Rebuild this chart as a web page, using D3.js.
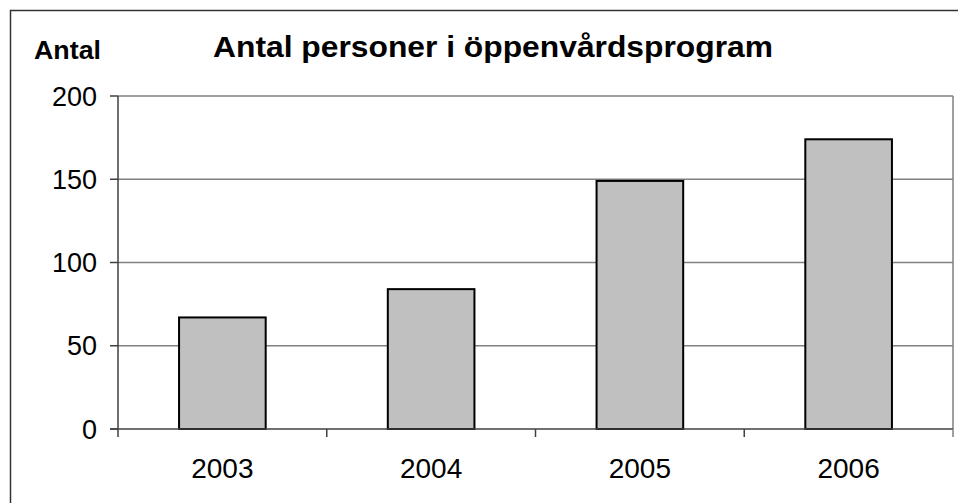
<!DOCTYPE html>
<html>
<head>
<meta charset="utf-8">
<script src="https://cdn.jsdelivr.net/npm/d3@7/dist/d3.min.js"></script>
<style>
  html, body { margin: 0; padding: 0; background: #fff; }
  svg { display: block; font-family: "Liberation Sans", Arial, sans-serif; }
</style>
</head>
<body>
<svg id="chart" width="958" height="503"></svg>
<script>
const categories = ["2003", "2004", "2005", "2006"];
const values = [67, 84, 149, 174];
const yTicks = [0, 50, 100, 150, 200];
const titleText = "Antal personer i öppenvårdsprogram";
const yLabelText = "Antal";

const svg = d3.select("#chart");
const W = 958, H = 503;
const plot = { left: 118, right: 953, top: 96, bottom: 429 };

// outer chart border
svg.append("rect")
  .attr("x", 10.5).attr("y", 10.5)
  .attr("width", W + 20).attr("height", H + 20)
  .attr("fill", "none").attr("stroke", "#333").attr("stroke-width", 1.5);

const x = d3.scaleBand().domain(categories)
  .range([plot.left, plot.right])
  .paddingInner(0.585).paddingOuter(0.2925);
const xEdges = d3.scaleBand().domain(categories)
  .range([plot.left, plot.right]).padding(0);
const y = d3.scaleLinear().domain([0, 200]).range([plot.bottom, plot.top]);

// gridlines
svg.append("g").selectAll("line").data(yTicks.filter(d => d > 0)).join("line")
  .attr("x1", plot.left).attr("x2", plot.right)
  .attr("y1", d => y(d)).attr("y2", d => y(d))
  .attr("stroke", "#808080").attr("stroke-width", 1.5);

// plot area right border
svg.append("line")
  .attr("x1", plot.right).attr("x2", plot.right)
  .attr("y1", plot.top).attr("y2", plot.bottom)
  .attr("stroke", "#808080").attr("stroke-width", 1.5);

// bars
svg.append("g").selectAll("rect").data(values).join("rect")
  .attr("x", (d, i) => x(categories[i]))
  .attr("y", d => y(d))
  .attr("width", x.bandwidth())
  .attr("height", d => y(0) - y(d))
  .attr("fill", "#c0c0c0").attr("stroke", "#000").attr("stroke-width", 2);

// x axis
const xAxis = svg.append("g")
  .attr("transform", `translate(0,${plot.bottom})`);
xAxis.append("line")
  .attr("x1", plot.left - 8).attr("x2", plot.right)
  .attr("y1", 0).attr("y2", 0)
  .attr("stroke", "#404040").attr("stroke-width", 1.5);
const edgeVals = categories.slice(1);
xAxis.selectAll("line.tick").data(edgeVals).join("line")
  .attr("class", "tick")
  .attr("x1", d => xEdges(d)).attr("x2", d => xEdges(d))
  .attr("y1", 0).attr("y2", 8)
  .attr("stroke", "#404040").attr("stroke-width", 1.5);
xAxis.append("line")
  .attr("x1", plot.right).attr("x2", plot.right)
  .attr("y1", 0).attr("y2", 8)
  .attr("stroke", "#808080").attr("stroke-width", 1.5);
xAxis.selectAll("text").data(categories).join("text")
  .attr("x", d => x(d) + x.bandwidth() / 2)
  .attr("y", 49)
  .attr("text-anchor", "middle")
  .attr("font-size", 28)
  .attr("fill", "#000")
  .text(d => d);

// y axis
const yAxis = svg.append("g");
yAxis.append("line")
  .attr("x1", plot.left).attr("x2", plot.left)
  .attr("y1", plot.top).attr("y2", plot.bottom + 8)
  .attr("stroke", "#404040").attr("stroke-width", 1.5);
yAxis.selectAll("line.tick").data(yTicks).join("line")
  .attr("class", "tick")
  .attr("x1", plot.left - 8).attr("x2", plot.left)
  .attr("y1", d => y(d)).attr("y2", d => y(d))
  .attr("stroke", "#404040").attr("stroke-width", 1.5);
yAxis.selectAll("text").data(yTicks).join("text")
  .attr("x", 97)
  .attr("y", d => y(d) + 9.5)
  .attr("text-anchor", "end")
  .attr("font-size", 27)
  .attr("fill", "#000")
  .text(d => d);

// y label
svg.append("text")
  .attr("x", 34).attr("y", 59)
  .attr("font-size", 25).attr("font-weight", "bold")
  .attr("textLength", 67).attr("lengthAdjust", "spacingAndGlyphs")
  .attr("fill", "#000")
  .text(yLabelText);

// title
svg.append("text")
  .attr("x", 213).attr("y", 57)
  .attr("font-size", 30).attr("font-weight", "bold")
  .attr("textLength", 560).attr("lengthAdjust", "spacingAndGlyphs")
  .attr("fill", "#000")
  .text(titleText);
</script>
</body>
</html>
